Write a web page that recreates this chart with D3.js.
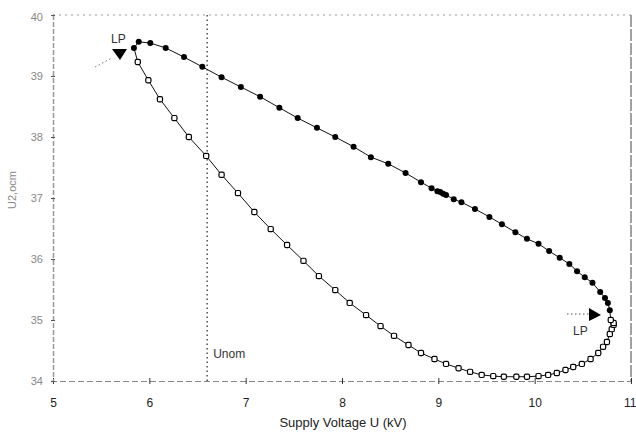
<!DOCTYPE html>
<html>
<head>
<meta charset="utf-8">
<script src="https://cdn.jsdelivr.net/npm/d3@7"></script>
<style>
  body { margin: 0; background: #fff; }
  svg { display: block; font-family: "Liberation Sans", Arial, sans-serif; }
</style>
</head>
<body>
<svg width="636" height="438"></svg>
<script>
// upper branch (filled markers), left -> right
var upperU = [5.84, 5.89, 6.01, 6.17, 6.36, 6.55, 6.75, 6.95, 7.15, 7.35, 7.54, 7.74, 7.93, 8.12, 8.30, 8.48, 8.66, 8.82, 8.93, 8.99, 9.02, 9.05, 9.08, 9.16, 9.24, 9.38, 9.53, 9.66, 9.80, 9.92, 10.04, 10.15, 10.26, 10.36, 10.44, 10.52, 10.60, 10.68, 10.73, 10.76, 10.78];
var upperQ = [39.46, 39.56, 39.54, 39.46, 39.31, 39.15, 38.98, 38.82, 38.66, 38.48, 38.31, 38.15, 38.00, 37.84, 37.67, 37.56, 37.41, 37.26, 37.16, 37.11, 37.10, 37.07, 37.05, 36.98, 36.93, 36.82, 36.69, 36.57, 36.44, 36.33, 36.25, 36.13, 36.02, 35.92, 35.80, 35.70, 35.61, 35.46, 35.36, 35.28, 35.16];

// lower branch (open markers), top-left -> bottom -> right
var lowerU = [5.88, 5.99, 6.11, 6.26, 6.41, 6.59, 6.75, 6.92, 7.09, 7.26, 7.43, 7.60, 7.76, 7.93, 8.08, 8.25, 8.40, 8.54, 8.69, 8.82, 8.96, 9.08, 9.21, 9.33, 9.45, 9.57, 9.68, 9.81, 9.92, 10.04, 10.14, 10.23, 10.32, 10.40, 10.49, 10.58, 10.66, 10.71, 10.75, 10.78, 10.80, 10.82, 10.82, 10.79];
var lowerQ = [39.23, 38.93, 38.62, 38.31, 38.00, 37.69, 37.38, 37.08, 36.77, 36.49, 36.23, 35.97, 35.72, 35.49, 35.28, 35.08, 34.90, 34.74, 34.59, 34.46, 34.36, 34.28, 34.21, 34.15, 34.10, 34.08, 34.07, 34.07, 34.07, 34.08, 34.10, 34.13, 34.18, 34.23, 34.28, 34.36, 34.46, 34.56, 34.64, 34.77, 34.85, 34.92, 34.95, 35.00];

var xTicks = [5, 6, 7, 8, 9, 10, 11];
var yTicks = [34, 35, 36, 37, 38, 39, 40];
var uNom = 6.6;

var svg = d3.select("svg");
var mLeft = 53, mRight = 631, mTop = 15, mBottom = 381;

var x = d3.scaleLinear().domain([5, 11]).range([mLeft, mRight]);
var y = d3.scaleLinear().domain([34, 40]).range([mBottom, mTop]);

var upper = upperU.map(function(u, i) { return [u, upperQ[i]]; });
var lower = lowerU.map(function(u, i) { return [u, lowerQ[i]]; });

// frame
svg.append("line").attr("x1", mLeft).attr("x2", mRight).attr("y1", mTop).attr("y2", mTop)
  .attr("stroke", "#999").attr("stroke-dasharray", "2,4");
svg.append("line").attr("x1", mRight).attr("x2", mRight).attr("y1", mTop).attr("y2", mBottom)
  .attr("stroke", "#444").attr("stroke-dasharray", "12,2");

// axes
var xAxis = svg.append("g").attr("transform", "translate(0," + mBottom + ")")
  .call(d3.axisBottom(x).tickValues(xTicks).tickSize(3).tickFormat(d3.format("d")));
xAxis.select(".domain").attr("stroke", "#888").attr("stroke-dasharray", "6,3");
xAxis.selectAll(".tick line").attr("stroke", "#333").attr("y1", -3).attr("y2", 3);
xAxis.selectAll(".tick text").attr("y", 17).attr("font-size", 12).attr("fill", "#222")
  .attr("font-family", "Liberation Sans, Arial, sans-serif");
xAxis.selectAll(".tick text").filter(function(d) { return d === 11; })
  .attr("text-anchor", "end").attr("x", 5);

var yAxis = svg.append("g").attr("transform", "translate(" + mLeft + ",0)")
  .call(d3.axisLeft(y).tickValues(yTicks).tickSize(2).tickFormat(d3.format("d")));
yAxis.select(".domain").attr("stroke", "#999").attr("stroke-width", 1.5).attr("stroke-dasharray", "5,2");
yAxis.selectAll(".tick line").attr("stroke", "#555").attr("x1", -2).attr("x2", 2);
yAxis.selectAll(".tick text").attr("x", -10).attr("font-size", 11).attr("fill", "#888")
  .attr("font-family", "Liberation Sans, Arial, sans-serif");
yAxis.selectAll(".tick text").filter(function(d) { return d === 40; }).attr("dy", "0.5em");

// nominal voltage line
svg.append("line").attr("x1", x(uNom)).attr("x2", x(uNom)).attr("y1", mTop).attr("y2", mBottom)
  .attr("stroke", "#222").attr("stroke-width", 1.2).attr("stroke-dasharray", "1.5,3");
svg.append("text").attr("x", x(uNom) + 6).attr("y", 358).attr("font-size", 12)
  .attr("fill", "#333").text("Unom");

// curve: lower branch then upper branch back, closed
var loop = lower.concat(upper.slice().reverse());
var line = d3.line().x(function(d) { return x(d[0]); }).y(function(d) { return y(d[1]); })
  .curve(d3.curveLinearClosed);
svg.append("path").datum(loop).attr("d", line)
  .attr("fill", "none").attr("stroke", "#111").attr("stroke-width", 1);

svg.append("g").selectAll("circle").data(upper).join("circle")
  .attr("cx", function(d) { return x(d[0]); })
  .attr("cy", function(d) { return y(d[1]); })
  .attr("r", 3).attr("fill", "#000");

svg.append("g").selectAll("rect").data(lower).join("rect")
  .attr("x", function(d) { return x(d[0]) - 2.6; })
  .attr("y", function(d) { return y(d[1]) - 2.6; })
  .attr("width", 5.2).attr("height", 5.2).attr("rx", 1.5)
  .attr("fill", "#fff").attr("stroke", "#000").attr("stroke-width", 1.2);

// LP annotations
svg.append("line").attr("x1", 95).attr("y1", 67).attr("x2", 112).attr("y2", 58)
  .attr("stroke", "#777").attr("stroke-dasharray", "1.5,2.5");
svg.append("path").attr("d", "M112,49 L127,49 L120,60 Z").attr("fill", "#000");
svg.append("text").attr("x", 111).attr("y", 43).attr("font-size", 12).attr("fill", "#333").text("LP");

svg.append("line").attr("x1", 567).attr("y1", 314).attr("x2", 589).attr("y2", 314)
  .attr("stroke", "#555").attr("stroke-dasharray", "1.5,2.5");
svg.append("path").attr("d", "M589,308 L601,315 L589,321 Z").attr("fill", "#000");
svg.append("text").attr("x", 573).attr("y", 335).attr("font-size", 12).attr("fill", "#333").text("LP");

// axis titles
svg.append("text").attr("x", 343).attr("y", 427).attr("text-anchor", "middle")
  .attr("font-size", 13).attr("fill", "#222").text("Supply Voltage U (kV)");
svg.append("text").attr("transform", "translate(16,190) rotate(-90)").attr("text-anchor", "middle")
  .attr("font-size", 11).attr("fill", "#888").text("U2,ocm");
</script>
</body>
</html>
